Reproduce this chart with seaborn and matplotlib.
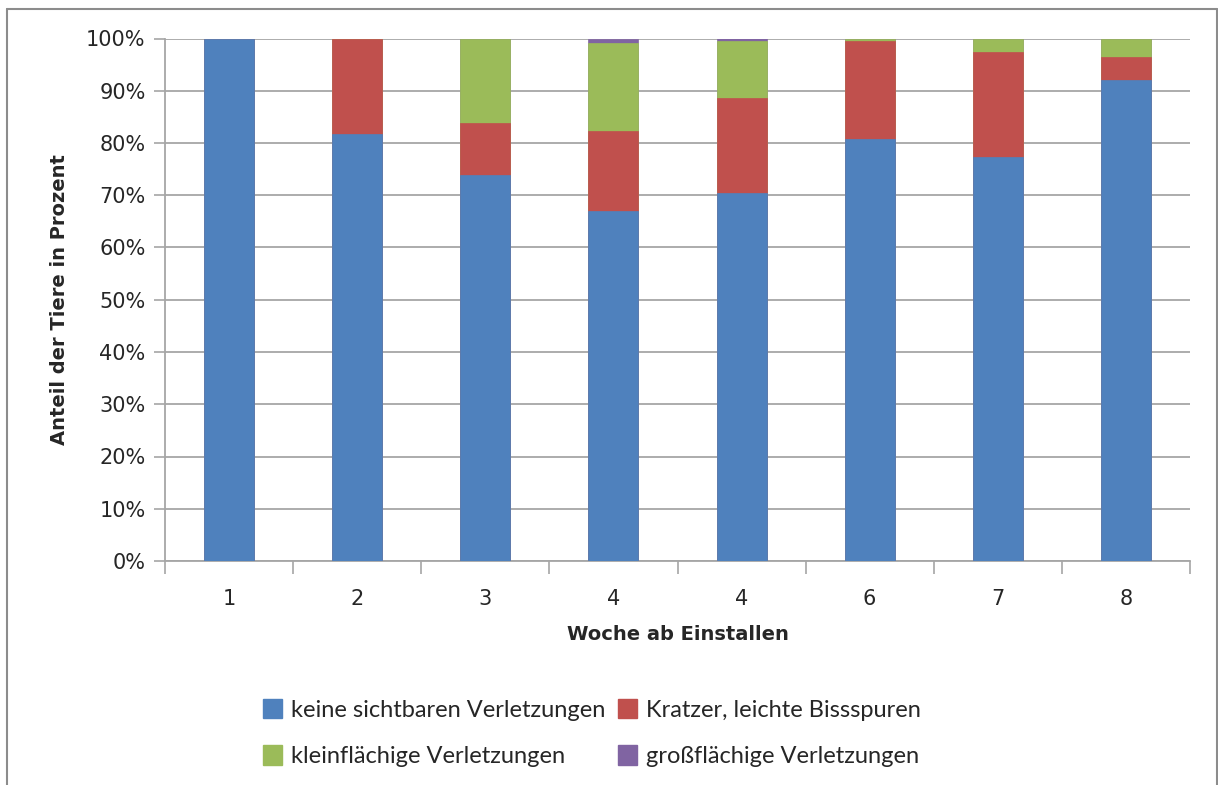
import numpy as np
import pandas as pd
import matplotlib
matplotlib.use("Agg")
import matplotlib.pyplot as plt
from matplotlib.lines import Line2D
from matplotlib.patches import Patch
from matplotlib.ticker import PercentFormatter
import seaborn as sns

weeks = ["1", "2", "3", "4", "4", "6", "7", "8"]
keine = [100.0, 81.7, 73.9, 67.0, 70.4, 80.7, 77.3, 92.0]
kratzer = [0.0, 18.3, 10.0, 15.3, 18.2, 18.9, 20.1, 4.4]
klein = [0.0, 0.0, 16.1, 16.9, 11.0, 0.4, 2.6, 3.6]
gross = [0.0, 0.0, 0.0, 0.8, 0.4, 0.0, 0.0, 0.0]

series_names = ["keine sichtbaren Verletzungen", "Kratzer, leichte Bissspuren",
                "kleinflächige Verletzungen", "großflächige Verletzungen"]
colors = ["#4F81BD", "#C0504D", "#9BBB59", "#8064A2"]

sns.set_theme(style="white")
plt.rcParams['font.family'] = ['DejaVu Sans']

df = pd.DataFrame({"pos": list(range(len(weeks))), "keine": keine, "kratzer": kratzer,
                   "klein": klein, "gross": gross})
cols = ["keine", "kratzer", "klein", "gross"]
cum = df[cols].cumsum(axis=1)

fig = plt.figure(figsize=(12.18, 7.85), dpi=100)
W, H = 1218, 785
ax = fig.add_axes([165 / W, 1 - 561 / H, (1190 - 165) / W, (561 - 38.5) / H])

# draw from the top layer down so each lower layer covers the previous
for col, c in reversed(list(zip(cols, colors))):
    sns.barplot(x=df["pos"], y=cum[col], color=c, width=0.39, ax=ax,
                saturation=1, edgecolor=c, linewidth=0.5, zorder=3)

ax.set_ylim(0, 100)
ax.set_xlim(-0.5, len(weeks) - 0.5)
ax.set_yticks(np.arange(0, 101, 10))
ax.yaxis.set_major_formatter(PercentFormatter(decimals=0))
ax.yaxis.grid(True, color="#A6A6A6", linewidth=1.3, zorder=0)
ax.set_axisbelow(True)

ax.set_xticks(np.arange(-0.5, len(weeks), 1))
ax.set_xticklabels([])
ax.set_xticks(np.arange(len(weeks)), minor=True)
ax.set_xticklabels(weeks, minor=True)
ax.tick_params(axis="x", which="major", length=9, width=1.2, color="#A6A6A6", direction="out", bottom=True)
ax.tick_params(axis="x", which="minor", length=0, pad=20, labelsize=15, bottom=True)
ax.tick_params(axis="y", length=8, width=1.2, color="#A6A6A6", direction="out", left=True, labelsize=15, pad=6)

for s in ["top", "right"]:
    ax.spines[s].set_visible(False)
for s in ["left", "bottom"]:
    ax.spines[s].set_color("#A6A6A6")
    ax.spines[s].set_linewidth(1.3)

ax.set_xlabel("Woche ab Einstallen", fontsize=14, fontweight="bold")
ax.set_ylabel("Anteil der Tiere in Prozent", fontsize=14, fontweight="bold", labelpad=12)
ax.xaxis.set_label_coords(0.5, -(625 - 561) / (561 - 38.5))

handles = [Patch(facecolor=colors[i], edgecolor=colors[i]) for i in [0, 2, 1, 3]]
labels = [series_names[i] for i in [0, 2, 1, 3]]
fig.legend(handles, labels, ncol=2, loc="center", bbox_to_anchor=(592 / W, 1 - 733 / H),
           frameon=False, prop={"family": "Lato", "size": 17}, handlelength=0.8,
           handleheight=0.9, handletextpad=0.4, columnspacing=0.5, labelspacing=1.05)

# outer frame
fc = "#8C8C8C"
fig.add_artist(Line2D([7 / W, 7 / W], [0, 1 - 9 / H], transform=fig.transFigure, color=fc, lw=1.5))
fig.add_artist(Line2D([7 / W, 1216.5 / W], [1 - 9 / H, 1 - 9 / H], transform=fig.transFigure, color=fc, lw=1.5))
fig.add_artist(Line2D([1216.5 / W, 1216.5 / W], [0, 1 - 9 / H], transform=fig.transFigure, color=fc, lw=1.5))

fig.savefig("out.png", dpi=100)
